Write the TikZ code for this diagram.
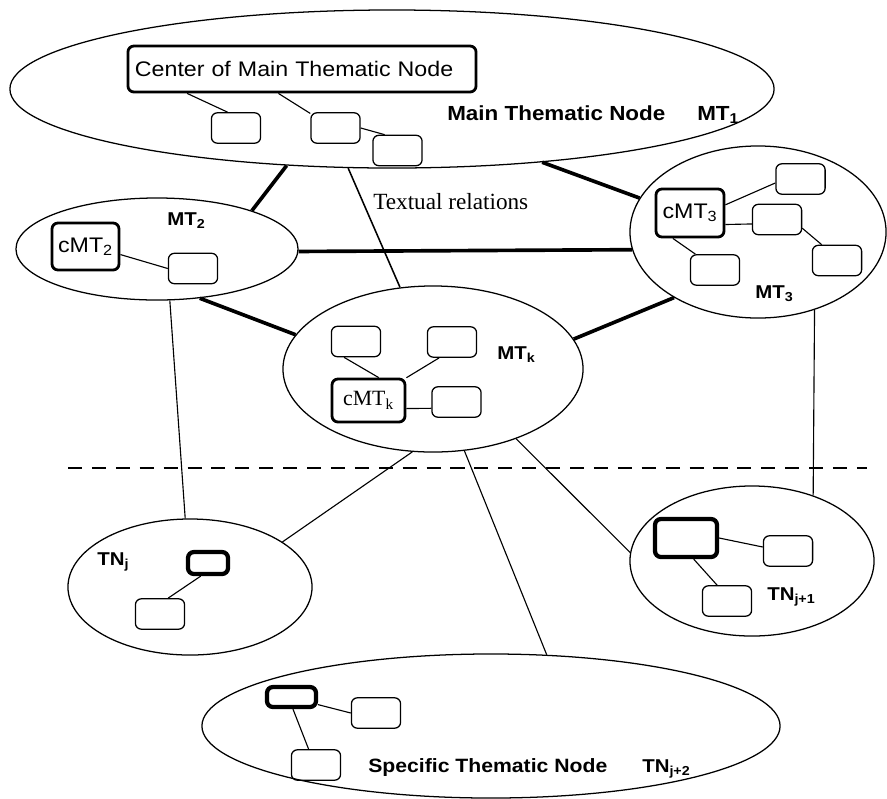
\documentclass[tikz,border=0pt]{standalone}
\usepackage{fontspec}
\setmainfont{Liberation Serif}
\setsansfont{Liberation Sans}[FakeStretch=1.1]
\usetikzlibrary{shapes.geometric}
\begin{document}
\begin{tikzpicture}[x=0.025cm,y=-0.025cm,
  theme/.style={draw,ellipse,inner sep=0pt,line width=0.9pt},
  cell/.style={draw,rounded corners=1.5mm,line width=0.9pt,minimum width=12.3mm,minimum height=7.6mm,inner sep=0pt},
  core/.style={draw,rounded corners=1.5mm,line width=2pt,inner sep=0pt,font=\sffamily\fontsize{15}{18}\selectfont},
  seed/.style={draw,rounded corners=1.5mm,line width=3pt,inner sep=0pt},
  tie/.style={line width=0.8pt},
  strong/.style={line width=2.6pt},
  tag/.style={font=\sffamily\bfseries\fontsize{13.2}{15}\selectfont,inner sep=0pt,anchor=base west},
  bigtag/.style={font=\sffamily\bfseries\fontsize{14.5}{17}\selectfont,inner sep=0pt,anchor=base west}]
\useasboundingbox (0,0) rectangle (887,798);
\node[theme,minimum width=191mm,minimum height=39.5mm] (main) at (392,89) {};
\node[theme,minimum width=70.5mm,minimum height=25.5mm] (mt2) at (157,249) {};
\node[theme,minimum width=64mm,minimum height=43mm] (mt3) at (758,232) {};
\node[theme,minimum width=75mm,minimum height=41.5mm] (mtk) at (433,369) {};
\node[theme,minimum width=61mm,minimum height=34mm] (tnj) at (190,587) {};
\node[theme,minimum width=61mm,minimum height=37.5mm] (tnj1) at (752,561) {};
\node[theme,minimum width=144.5mm,minimum height=36mm] (tnj2) at (491,726) {};
% main thematic node
\node[core,minimum height=11.5mm,text width=83.5mm,inner xsep=1.75mm,align=left] (cbox) at (302,69) {Center of Main Thematic Node};
\node[cell] (ma) at (236,128) {};
\node[cell] (mb) at (335.5,128) {};
\node[cell] (mc) at (397.5,150.5) {};
\node[bigtag] (mainlabel) at (447,120) {Main Thematic Node};
\node[bigtag] (mt1label) at (697,120) {MT\textsubscript{1}};
\draw[tie] (cbox.192) -- (ma.118);
\draw[tie] (cbox.226) -- (mb.150);
\draw[tie] (mb.east) -- (mc.129);
% MT2
\node[core,minimum width=16.75mm,minimum height=11.75mm] (cmt2) at (85.5,246.5) {cMT\textsubscript{2}};
\node[cell] (m2a) at (193,268.5) {};
\node[tag] (mt2label) at (167,225) {MT\textsubscript{2}};
\draw[tie] (cmt2.347) -- (m2a.west);
% MT3
\node[core,minimum width=17mm,minimum height=12mm] (cmt3) at (690,213) {cMT\textsubscript{3}};
\node[cell] (m3a) at (800.5,179) {};
\node[cell] (m3b) at (777,219.5) {};
\node[cell] (m3c) at (837,260.5) {};
\node[cell] (m3d) at (715,270) {};
\node[tag] (mt3label) at (755,298) {MT\textsubscript{3}};
\draw[tie] (cmt3.13) -- (m3a.189);
\draw[tie] (cmt3.342) -- (m3b.190);
\draw[tie] (m3b.341) -- (m3c.134);
\draw[tie] (cmt3.236) -- (m3d.141);
% MTk
\node[cell] (mka) at (356,341.5) {};
\node[cell] (mkb) at (452,342) {};
\node[core,font=\rmfamily\fontsize{15.5}{18}\selectfont,minimum width=18.25mm,minimum height=10.75mm] (cmtk) at (368.5,400.5) {cMT\textsubscript{k}};
\node[cell] (mkc) at (456.5,402) {};
\node[tag] (mtklabel) at (497,359) {MT\textsubscript{k}};
\draw[tie] (mka.233) -- (cmtk.66);
\draw[tie] (mkb.231) -- (cmtk.31);
\draw[tie] (cmtk.348) -- (mkc.194);
% specific thematic nodes
\node[seed,minimum width=10mm,minimum height=5.5mm] (tja) at (208,563) {};
\node[cell] (tjb) at (160,614) {};
\node[tag] (tnjlabel) at (97,565) {TN\textsubscript{j}};
\draw[tie] (tja.241) -- (tjb.63);
\node[seed,minimum width=15.5mm,minimum height=9.5mm] (t1a) at (686,538) {};
\node[cell] (t1b) at (788,551) {};
\node[cell] (t1c) at (727,601) {};
\node[tag] (tnj1label) at (767,600) {TN\textsubscript{j+1}};
\draw[tie] (t1a.east) -- (t1b.171);
\draw[tie] (t1a.290) -- (t1c.122);
\node[seed,minimum width=12.25mm,minimum height=5mm] (t2a) at (291.5,697) {};
\node[cell] (t2b) at (376,713) {};
\node[cell] (t2c) at (316,765) {};
\node[bigtag,font=\sffamily\bfseries\fontsize{13.7}{17}\selectfont] (speclabel) at (368,772) {Specific Thematic Node};
\node[tag] (tnj2label) at (642,772) {TN\textsubscript{j+2}};
\draw[tie] (t2a.344) -- (t2b.west);
\draw[tie] (t2a.277) -- (t2c.115);
% relations
\node[anchor=base west,font=\rmfamily\fontsize{16.5}{19}\selectfont,inner sep=0pt] (textual) at (373,209) {Textual relations};
\draw[strong] (main.216) -- (mt2.22);
\draw[strong] (main.334) -- (mt3.164);
\draw[line width=1.1pt] (main.241) -- (mtk.112);
\draw[strong] (mt2.359) -- (mt3.188);
\draw[strong] (mt2.311) -- (mtk.166);
\draw[strong] (mt3.218) -- (mtk.12);
\draw[tie] (mt2.284) -- (tnj.94);
\draw[tie] (mtk.256) -- (tnj.26);
\draw[tie] (mtk.291) -- (tnj2.52);
\draw[tie] (mtk.320) -- (tnj1.176);
\draw[tie] (mt3.306) -- (tnj1.47);
\coordinate (dl) at (68,468);
\coordinate (dr) at (867,468);
\draw[line width=1.3pt,dash pattern=on 10pt off 7pt] (dl) -- (dr);
\end{tikzpicture}
\end{document}
